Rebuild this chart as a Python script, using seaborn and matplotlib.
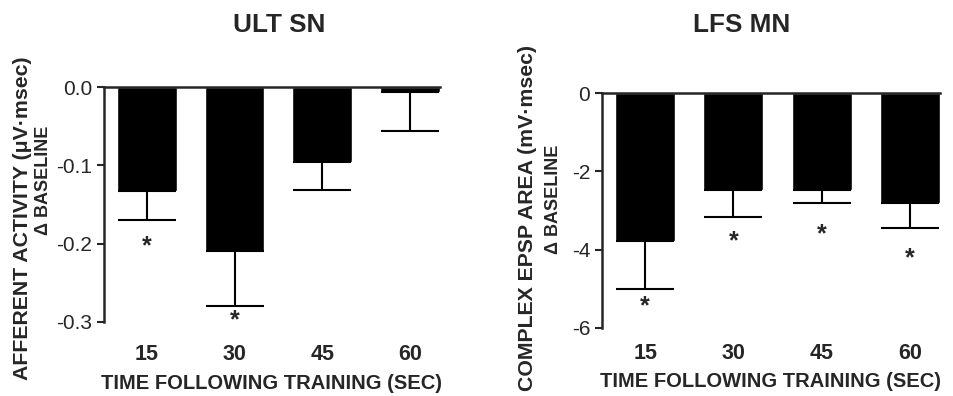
import seaborn as sns
import numpy as np
import pandas as pd
import matplotlib
matplotlib.use('Agg')
import matplotlib.pyplot as plt

# data
times = ['15', '30', '45', '60']
ult_sn_mean = [-0.133, -0.209, -0.096, -0.006]
ult_sn_sem = [0.037, 0.070, 0.036, 0.050]
ult_sn_star = [-0.203, -0.298, None, None]
lfs_mn_mean = [-3.78, -2.48, -2.48, -2.81]
lfs_mn_sem = [1.22, 0.69, 0.33, 0.64]
lfs_mn_star = [-5.46, -3.80, -3.60, -4.22]

sns.set_style('ticks')
plt.rcParams['font.family'] = ['Liberation Sans', 'DejaVu Sans']
plt.rcParams['axes.unicode_minus'] = False

fig = plt.figure(figsize=(9.54, 3.96), dpi=100)
ax1 = fig.add_axes([0.109, 0.187, 0.352, 0.593])
ax2 = fig.add_axes([0.631, 0.172, 0.354, 0.593])

panels = [
    (ax1, 'ULT SN', 0.521, ult_sn_mean, ult_sn_sem, ult_sn_star,
     'AFFERENT ACTIVITY (μV·msec)', (0.024, 0.450), (0.0456, 0.545),
     (-0.3, 0), [0, -0.1, -0.2, -0.3], '{:.1f}', 39.6, 16),
    (ax2, 'LFS MN', 0.414, lfs_mn_mean, lfs_mn_sem, lfs_mn_star,
     'COMPLEX EPSP AREA (mV·msec)', (0.553, 0.450), (0.580, 0.497),
     (-6, 0), [0, -2, -4, -6], '{:.0f}', 44, 11),
]

for (ax, title, tx, mean, sem, star, ylab, lab1, lab2,
     ylim, yticks, fmt, tpad, xpad) in panels:
    df = pd.DataFrame({'time': times, 'value': mean, 'sem': sem})
    sns.barplot(ax=ax, data=df, x='time', y='value', color='black',
                width=0.68, errorbar=None, saturation=1)
    xs = np.arange(len(times))
    ax.errorbar(xs, df['value'], yerr=[df['sem'], np.zeros(len(df))],
                fmt='none', ecolor='black', elinewidth=1.5, capsize=21,
                capthick=1.5, clip_on=False)
    for i, s in enumerate(star):
        if s is not None:
            ax.text(i, s, '*', ha='center', va='center', fontsize=18,
                    fontweight='bold')
    ax.set_xlim(-0.49, 3.34)
    ax.set_ylim(*ylim)
    ax.set_yticks(yticks)
    ax.set_yticklabels([fmt.format(v) for v in yticks], fontsize=15)
    ax.set_xticks(xs)
    ax.set_xticklabels(times, fontsize=15.5, fontweight='bold')
    ax.tick_params(axis='x', length=0, pad=xpad)
    ax.tick_params(axis='y', length=5, width=1.5, direction='out')
    for side in ['bottom', 'right']:
        ax.spines[side].set_visible(False)
    ax.spines['left'].set_linewidth(1.8)
    ax.spines['top'].set_linewidth(1.8)
    ax.set_xlabel('TIME FOLLOWING TRAINING (SEC)', fontsize=14.5,
                  fontweight='bold', labelpad=6)
    ax.set_ylabel('')
    fig.text(lab1[0], lab1[1], ylab, rotation=90, ha='center', va='center',
             fontsize=15.3, fontweight='bold')
    fig.text(lab2[0], lab2[1], 'Δ BASELINE', rotation=90, ha='center',
             va='center', fontsize=13, fontweight='bold')
    ax.set_title(title, fontsize=18.8, fontweight='bold', pad=tpad, x=tx)

fig.savefig('out.png', dpi=100)
